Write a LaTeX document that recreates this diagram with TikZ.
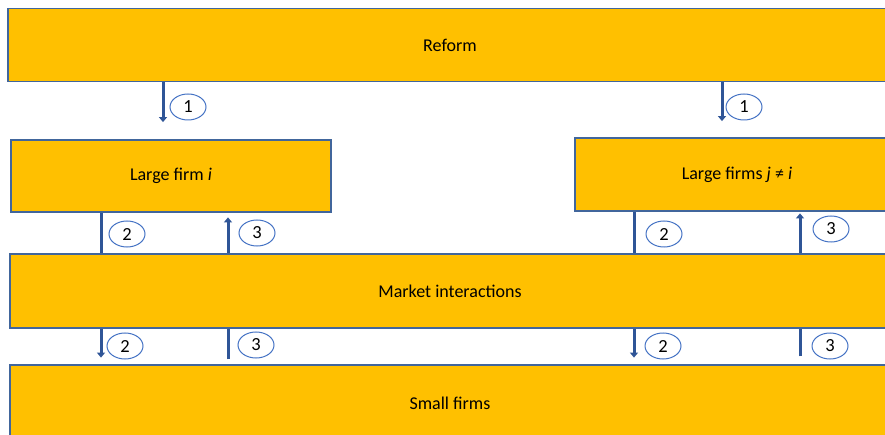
\documentclass[tikz,border=0pt]{standalone}
\usepackage{fontspec}
\setmainfont{Carlito}
\usetikzlibrary{shapes.geometric,arrows.meta,backgrounds}
\definecolor{gold}{HTML}{FFC000}
\definecolor{boxline}{HTML}{41669C}
\definecolor{flowblue}{HTML}{2F5597}
\definecolor{ringblue}{HTML}{4472C4}

\begin{document}
\begin{tikzpicture}[x=1pt, y=-1pt,
		box/.style = {shape=rectangle, draw=boxline, line width=1.2pt, fill=gold, inner sep=0pt,
	font=\fontsize{18}{22}\selectfont},
		num/.style = {shape=ellipse, draw=ringblue, line width=1pt, fill=white, inner sep=0pt,
	minimum width=36pt, minimum height=26pt, font=\fontsize{18.5}{22}\selectfont},
		flow/.style = {draw=flowblue, line width=3pt, -{Triangle[width=8pt,length=5pt]}}]
			\useasboundingbox (0,0) rectangle (885,435);
			% boxes
			\node[box, minimum width=884pt, minimum height=73pt] (reform) at (450,45) {Reform};
			\node[box, minimum width=320pt, minimum height=72pt] (firmi) at (171,176) {Large firm \textit{i}};
			\node[box, minimum width=324pt, minimum height=73pt] (firmsj) at (737,174.5) {Large firms \textit{j} ≠ \textit{i}};
			\node[box, minimum width=880pt, minimum height=74pt] (market) at (450,291) {Market interactions};
			\node[box, minimum width=880pt, minimum height=76pt] (small) at (450,403) {Small firms};
			% step numbers
			\node[num] (oneL) at (188,107) {1};
			\node[num] (oneR) at (744,107) {1};
			\node[num] (twoL) at (127,234) {2};
			\node[num] (threeL) at (257,233) {3};
			\node[num] (twoR) at (664,234) {2};
			\node[num] (threeR) at (831,229) {3};
			\node[num] (twoLb) at (125,346) {2};
			\node[num] (threeLb) at (256,345) {3};
			\node[num] (twoRb) at (663,346) {2};
			\node[num] (threeRb) at (830,346) {3};
			% arrows
			\begin{pgfonlayer}{background}
			\draw[flow] (163,0 |- reform.south) -- ++(0,40);
			\draw[flow] (722,0 |- reform.south) -- ++(0,39);
			\draw[flow] (101,0 |- firmi.south) -- ++(0,48);
			\draw[flow] (228,0 |- market.north) -- ++(0,-36);
			\draw[flow] (634,0 |- firmsj.south) -- ++(0,49);
			\draw[flow] (800,0 |- market.north) -- ++(0,-40);
			\draw[flow] (101,0 |- market.south) -- ++(0,29);
			\draw[flow] (228,0 |- small.north) ++(0,-5) -- ++(0,-40);
			\draw[flow] (634,0 |- market.south) -- ++(0,29);
			\draw[flow] (800,0 |- small.north) ++(0,-8) -- ++(0,-38);
			\end{pgfonlayer}
		\end{tikzpicture}
\end{document}
